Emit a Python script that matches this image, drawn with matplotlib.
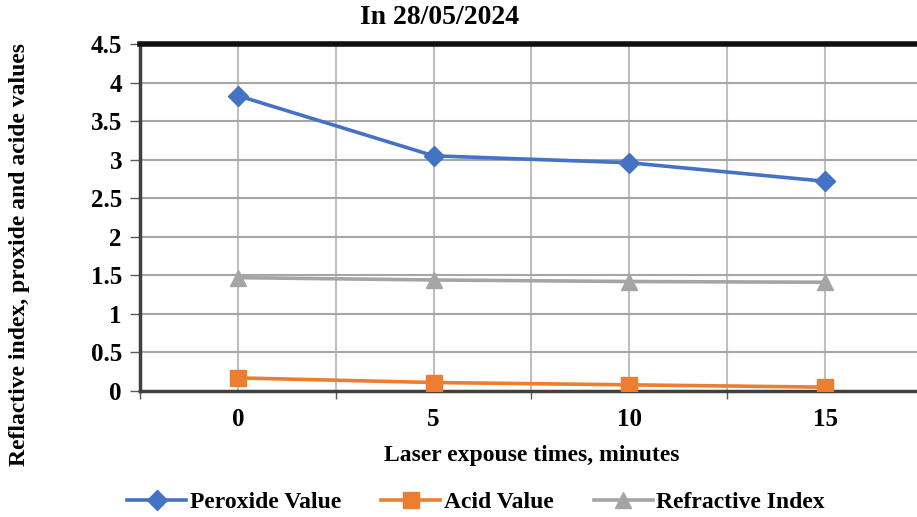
import matplotlib.pyplot as plt
import matplotlib

matplotlib.rc("font", family="Liberation Serif", weight="bold")

times = [0, 5, 10, 15]
peroxide = [3.83, 3.05, 2.96, 2.72]
acid = [0.17, 0.11, 0.08, 0.05]
refractive = [1.47, 1.44, 1.42, 1.41]

fig = plt.figure(figsize=(9.17, 5.17), dpi=100)
ax = fig.add_axes([140 / 917, 1 - 391 / 517, 1 - 140 / 917, (391 - 44) / 517])

ax.plot(times, peroxide, color="#4472C4", lw=2.6, marker="D", ms=10, label="Peroxide Value", zorder=3)
ax.plot(times, acid, color="#ED7D31", lw=2.6, marker="s", ms=12, label="Acid Value", zorder=3)
ax.plot(times, refractive, color="#A5A5A5", lw=2.6, marker="^", ms=12, label="Refractive Index", zorder=3)

ax.set_xlim(-2.5, 17.35)
ax.set_ylim(0, 4.5)
ax.set_yticks([0, 0.5, 1, 1.5, 2, 2.5, 3, 3.5, 4, 4.5])
ax.set_yticklabels(["0", "0.5", "1", "1.5", "2", "2.5", "3", "3.5", "4", "4.5"])
ax.set_xticks([-2.5, 2.5, 7.5, 12.5])
ax.set_xticklabels([])
ax.set_xticks(times, minor=True)
ax.set_xticklabels(["0", "5", "10", "15"], minor=True)
ax.tick_params(axis="x", which="minor", length=0, labelsize=18, pad=12)
ax.tick_params(axis="x", which="major", length=6, width=1, color="#595959")
ax.tick_params(axis="y", length=7, width=1, color="#595959", labelsize=18, pad=6)

for g in [0, 2.5, 5, 7.5, 10, 12.5, 15]:
    ax.axvline(g, color="#BFBFBF", lw=1.5, zorder=1)
for g in [0.5, 1, 1.5, 2, 2.5, 3, 3.5, 4]:
    ax.axhline(g, color="#A6A6A6", lw=1.5, zorder=1)

ax.spines["top"].set_linewidth(4)
ax.spines["top"].set_color("#111111")
ax.spines["left"].set_linewidth(2.5)
ax.spines["left"].set_color("#404040")
ax.spines["bottom"].set_linewidth(2.5)
ax.spines["bottom"].set_color("#404040")
ax.spines["right"].set_visible(False)

fig.text(440 / 917, 1 - 18 / 517, "In 28/05/2024", ha="center", va="center", fontsize=20, fontweight="bold")
fig.text(532 / 917, 1 - 455 / 517, "Laser expouse times, minutes", ha="center", va="center", fontsize=17, fontweight="bold")
fig.text(20 / 917, 1 - 254 / 517, "Reflactive index, proxide and acide values", ha="center", va="center",
         rotation=90, fontsize=17, fontweight="bold")

fig.legend(loc="center", bbox_to_anchor=(476 / 917, 1 - 502 / 517), ncol=3, frameon=False,
           fontsize=17, handlelength=2.5, columnspacing=1.7, handletextpad=0.15)

fig.savefig("out.png", dpi=100)
